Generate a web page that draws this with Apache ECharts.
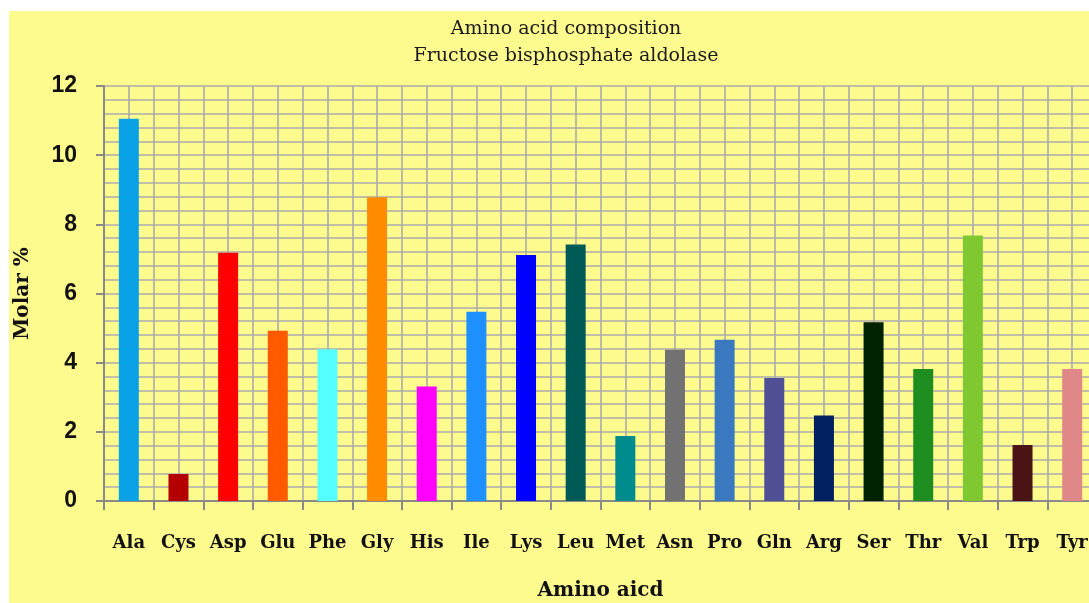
<!DOCTYPE html>
<html>
<head>
<meta charset="utf-8">
<script src="https://cdn.jsdelivr.net/npm/echarts@6/dist/echarts.min.js"></script>
<style>
html,body{margin:0;padding:0;background:#ffffff;overflow:hidden;}
#chart{position:absolute;left:9px;top:11px;width:1080px;height:592px;}
</style>
</head>
<body>
<div id="chart"></div>
<script>
const categories = ["Ala","Cys","Asp","Glu","Phe","Gly","His","Ile","Lys","Leu","Met","Asn","Pro","Gln","Arg","Ser","Thr","Val","Trp","Tyr"];
const molarPercent = [11.05,0.78,7.18,4.92,4.39,8.78,3.31,5.47,7.11,7.42,1.88,4.37,4.66,3.56,2.47,5.17,3.82,7.68,1.62,3.82];
const barColors = ["#0aa2e6","#b40000","#ff0000","#ff5a00","#55ffff","#ff8c00","#ff00ff","#1e90ff","#0000ff","#005a55","#008c8c","#727272","#3a78c0","#4f4f96","#002060","#002200","#1e8c1e","#80c832","#4a1414","#e08888"];
const yTicks = [0,2,4,6,8,10,12];

const chart = echarts.init(document.getElementById('chart'), null, {renderer:'canvas'});
const gridColor = '#ababab';
const serif = 'DejaVu Serif';
chart.setOption({
  backgroundColor: '#fefb8e',
  animation: false,
  title: {
    text: 'Amino acid composition\nFructose bisphosphate aldolase',
    left: 552, top: 0, textAlign: 'center',
    textStyle: {fontFamily: serif, fontSize: 19, fontWeight: 'normal', color: '#1a1a1a', lineHeight: 27}
  },
  grid: {left: 95, top: 75, right: -8, bottom: 102, containLabel: false, outerBoundsMode: 'none'},
  xAxis: [{
    type: 'category',
    data: categories,
    name: 'Amino aicd',
    nameLocation: 'middle',
    nameGap: 80,
    nameTextStyle: {fontFamily: serif, fontSize: 20, fontWeight: 'bold', color: '#111'},
    axisLine: {lineStyle: {color: '#8a8a8a', width: 2}},
    axisTick: {show: true, inside: false, length: 9, alignWithLabel: false, lineStyle: {color: '#8a8a8a', width: 2}},
    axisLabel: {margin: 33, fontFamily: serif, fontSize: 18, fontWeight: 'bold', color: '#111', interval: 0},
    splitLine: {show: false}
  },{
    type: 'value', min: 0, max: 20, interval: 0.5, show: true,
    position: 'bottom',
    axisLine: {show: false}, axisTick: {show: false}, axisLabel: {show: false},
    splitLine: {show: true, lineStyle: {color: gridColor, width: 1.6}}
  }],
  yAxis: {
    type: 'value', min: yTicks[0], max: yTicks[yTicks.length-1], interval: 2,
    name: 'Molar %',
    nameLocation: 'middle',
    nameGap: 71,
    nameTextStyle: {fontFamily: serif, fontSize: 20, fontWeight: 'bold', color: '#111'},
    axisLine: {show: true, lineStyle: {color: '#8a8a8a', width: 2}},
    axisTick: {show: true, length: 8, lineStyle: {color: '#8a8a8a', width: 2}},
    axisLabel: {margin: 27, fontFamily: 'Liberation Sans', fontSize: 23, fontWeight: 'bold', color: '#111',
      formatter: v => yTicks.indexOf(v) >= 0 ? String(v) : ''},
    minorTick: {show: false, splitNumber: 5},
    splitLine: {show: true, lineStyle: {color: gridColor, width: 1.6}},
    minorSplitLine: {show: true, lineStyle: {color: gridColor, width: 1.6}}
  },
  series: [{
    type: 'bar',
    xAxisIndex: 0,
    barWidth: 20,
    data: molarPercent.map((v, i) => ({value: v, itemStyle: {color: barColors[i]}})),
    z: 3
  }]
});
</script>
</body>
</html>
